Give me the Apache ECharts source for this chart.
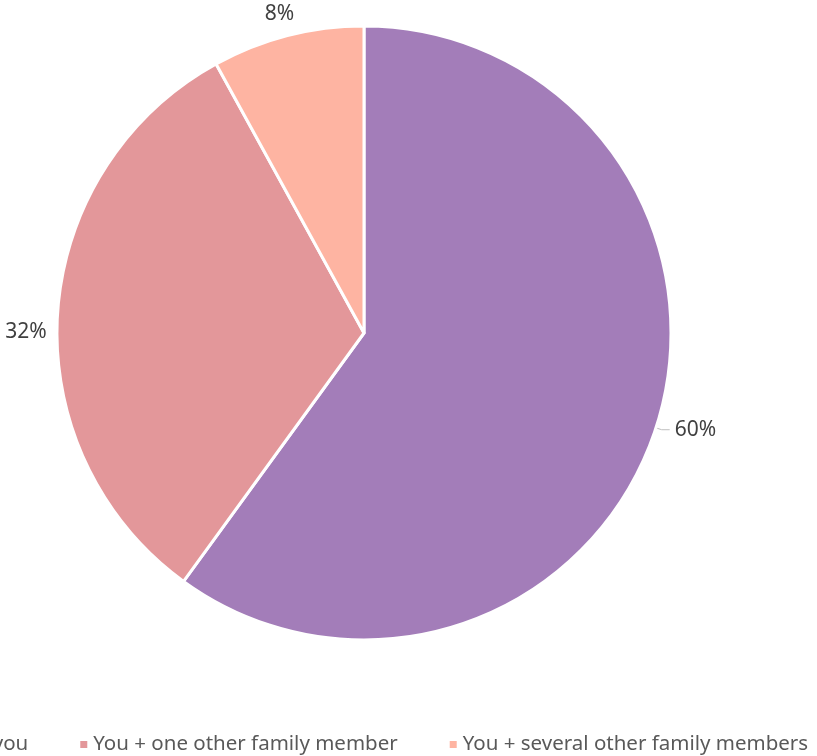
<!DOCTYPE html>
<html><head><meta charset="utf-8">
<script src="https://cdn.jsdelivr.net/npm/echarts@6/dist/echarts.min.js"></script>
<style>html,body{margin:0;padding:0;background:#fff}#c{width:817px;height:756px}</style>
</head><body><div id="c"></div>
<script>
const categories = ["Only you", "You + one other family member", "You + several other family members"];
const values = [60, 32, 8];
const colors = ["#a37db9", "#e3979a", "#feb4a2"];

const labelShift = [[0, 0], [8, 19], [21, -16]];
const showLine = [true, false, false];

const chart = echarts.init(document.getElementById('c'), null, {renderer: 'canvas'});
chart.setOption({
  animation: false,
  color: colors,
  legend: {
    data: categories,
    bottom: -4,
    left: -77,
    icon: 'rect',
    itemWidth: 9,
    itemHeight: 9,
    itemGap: 50,
    textStyle: {fontFamily: 'Noto Sans', fontSize: 20.5, color: '#595959'}
  },
  series: [{
    type: 'pie',
    center: [364, 333],
    radius: 307,
    startAngle: 90,
    clockwise: true,
    data: categories.map((n, i) => ({name: n, value: values[i], labelLine: {show: showLine[i]}})),
    itemStyle: {borderColor: '#fff', borderWidth: 3},
    label: {
      show: true,
      position: 'outside',
      formatter: p => p.value + '%',
      fontFamily: 'Noto Sans',
      fontSize: 21,
      color: '#404040',
      overflow: 'none'
    },
    labelLayout: p => ({dx: labelShift[p.dataIndex][0], dy: labelShift[p.dataIndex][1]}),
    labelLine: {show: true, length: 6, length2: 8, lineStyle: {color: '#bfbfbf', width: 1}}
  }]
});
</script></body></html>
